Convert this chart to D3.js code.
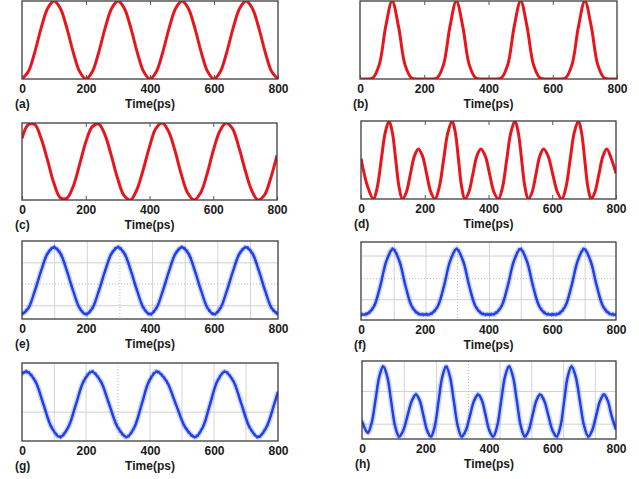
<!DOCTYPE html>
<html>
<head>
<meta charset="utf-8">
<script src="https://cdn.jsdelivr.net/npm/d3@7"></script>
<style>
  body { margin: 0; background: #fff; }
  svg { display: block; font-family: "Liberation Sans", Arial, sans-serif; }
</style>
</head>
<body>
<div id="chart"></div>
<script>
/**
 * DATA (amplitude normalised 0..1)
 * */
const tickValues = [0, 200, 400, 600, 800];

const time20 = [0, 20, 40, 60, 80, 100, 120, 140, 160, 180, 200, 220, 240, 260, 280, 300, 320, 340, 360, 380,
  400, 420, 440, 460, 480, 500, 520, 540, 560, 580, 600, 620, 640, 660, 680, 700, 720, 740, 760, 780, 800];

// (a) sine, peaks at 100/300/500/700
const valA = [0, 0.095, 0.345, 0.655, 0.905, 1, 0.905, 0.655, 0.345, 0.095,
  0, 0.095, 0.345, 0.655, 0.905, 1, 0.905, 0.655, 0.345, 0.095,
  0, 0.095, 0.345, 0.655, 0.905, 1, 0.905, 0.655, 0.345, 0.095,
  0, 0.095, 0.345, 0.655, 0.905, 1, 0.905, 0.655, 0.345, 0.095, 0];

// (b) narrow pulses with flat bottoms
const valB = [0, 0, 0.014, 0.184, 0.671, 1, 0.671, 0.184, 0.014, 0,
  0, 0, 0.014, 0.184, 0.671, 1, 0.671, 0.184, 0.014, 0,
  0, 0, 0.014, 0.184, 0.671, 1, 0.671, 0.184, 0.014, 0,
  0, 0, 0.014, 0.184, 0.671, 1, 0.671, 0.184, 0.014, 0, 0];

// (c) shifted sine
const valC = [0.80, 0.98, 0.98, 0.80, 0.52, 0.22, 0.03, 0.02, 0.17, 0.45,
  0.75, 0.95, 0.99, 0.85, 0.58, 0.28, 0.06, 0.00, 0.13, 0.39,
  0.69, 0.93, 1.00, 0.89, 0.64, 0.33, 0.09, 0.00, 0.09, 0.33,
  0.64, 0.89, 1.00, 0.93, 0.69, 0.39, 0.13, 0.00, 0.06, 0.28, 0.58];

// (d) alternating high / low peaks
const timeD = [0, 20, 39, 51, 63.5, 76, 88, 98.5, 109, 119.5, 130, 142.5, 155, 167.5, 180, 193, 206, 219, 232,
  245.5, 259, 272.5, 286, 296, 306, 316, 326, 338.5, 351, 363.5, 376, 390, 403.5, 417, 431,
  444, 457, 470, 483, 493.5, 504, 514.5, 525, 537, 549, 561, 573, 587, 601.5, 616, 630,
  643, 656, 669, 682, 692, 702, 712, 722, 734, 746.5, 759, 771, 785, 800];
const valD = [0.52, 0.17, 0, 0.15, 0.5, 0.85, 1, 0.85, 0.5, 0.15, 0, 0.09, 0.32, 0.55, 0.64, 0.55, 0.32, 0.09, 0,
  0.15, 0.5, 0.85, 1, 0.85, 0.5, 0.15, 0, 0.09, 0.32, 0.55, 0.64, 0.55, 0.32, 0.09, 0,
  0.15, 0.5, 0.85, 1, 0.85, 0.5, 0.15, 0, 0.09, 0.32, 0.55, 0.64, 0.55, 0.32, 0.09, 0,
  0.15, 0.5, 0.85, 1, 0.85, 0.5, 0.15, 0, 0.09, 0.32, 0.55, 0.64, 0.52, 0.33];

// (e) measured sine
const valE = [0.06, 0.14, 0.36, 0.62, 0.84, 0.92, 0.84, 0.62, 0.36, 0.14,
  0.06, 0.14, 0.36, 0.62, 0.84, 0.92, 0.84, 0.62, 0.36, 0.14,
  0.06, 0.14, 0.36, 0.62, 0.84, 0.92, 0.84, 0.62, 0.36, 0.14,
  0.06, 0.14, 0.36, 0.62, 0.84, 0.92, 0.84, 0.62, 0.36, 0.14, 0.06];

// (f) measured pulses
const valF = [0.07, 0.08, 0.17, 0.43, 0.76, 0.91, 0.76, 0.43, 0.17, 0.08,
  0.07, 0.08, 0.17, 0.43, 0.76, 0.91, 0.76, 0.43, 0.17, 0.08,
  0.07, 0.08, 0.17, 0.43, 0.76, 0.91, 0.76, 0.43, 0.17, 0.08,
  0.07, 0.08, 0.17, 0.43, 0.76, 0.91, 0.76, 0.43, 0.17, 0.08, 0.07];

// (g) measured shifted sine
const timeG = [0, 15, 41, 67, 93, 119, 143.75, 168.5, 193.25, 218, 245.25, 272.5, 299.75, 327,
  350.5, 374, 397.5, 421, 451, 481, 511, 541, 564.25, 587.5, 610.75, 634, 660, 686, 712, 738, 763, 788, 800];
const valG = [0.86, 0.89, 0.77, 0.47, 0.17, 0.05, 0.17, 0.47, 0.77, 0.89, 0.77, 0.47, 0.17, 0.05,
  0.17, 0.47, 0.77, 0.89, 0.77, 0.47, 0.17, 0.05, 0.17, 0.47, 0.77, 0.89, 0.77, 0.47, 0.17, 0.05, 0.17, 0.47, 0.63];

// (h) measured alternating peaks
const timeH = [0, 18, 30, 42.5, 55, 67, 79.5, 92, 104.5, 117, 130, 143.5, 157, 170, 182, 193.5, 205, 217,
  229, 241, 253, 265, 277, 289.5, 302, 314, 327, 340, 353, 366, 378, 389.5, 401, 413,
  425.5, 438, 450.5, 463, 475.5, 488, 500.5, 513, 525, 537, 549, 561, 574, 587, 600, 613,
  625, 636.5, 648, 660, 673, 686.5, 700, 713, 725, 737.5, 750, 762, 774, 786, 800];
const valH = [0.23, 0.08, 0.2, 0.5, 0.81, 0.93, 0.8, 0.48, 0.16, 0.03, 0.11, 0.3, 0.49, 0.57, 0.49, 0.3, 0.11, 0.03,
  0.16, 0.48, 0.8, 0.93, 0.8, 0.48, 0.16, 0.03, 0.11, 0.3, 0.49, 0.57, 0.49, 0.3, 0.11, 0.03,
  0.16, 0.48, 0.8, 0.93, 0.8, 0.48, 0.16, 0.03, 0.11, 0.3, 0.49, 0.57, 0.49, 0.3, 0.11, 0.03,
  0.16, 0.48, 0.8, 0.93, 0.8, 0.48, 0.16, 0.03, 0.11, 0.3, 0.49, 0.57, 0.49, 0.3, 0.12];

// oscilloscope grid of the measured panels (time of vertical lines, level of horizontal lines)
const gridE = { v: [102, 204, 408, 510, 612, 714], vDot: [306], h: [0.72, 0.17], hDot: [0.45] };
const gridF = { v: [104, 204, 403, 503, 603, 703], vDot: [303], h: [0.82, 0.26], hDot: [0.53] };
const gridG = { v: [101, 200, 400, 500, 600, 700], vDot: [300], h: [0.37], hDot: [] };
const gridH = { v: [133, 235, 435, 535, 635, 735], vDot: [335], h: [0.61, 0.19], hDot: [] };

/**
 * LAYOUT
 * */
const width = 639, height = 479;
const panels = [
  { id: "a", t: time20, v: valA, kind: "sim", box: [22, 1, 278, 79] },
  { id: "b", t: time20, v: valB, kind: "sim", box: [360, 1, 617, 79] },
  { id: "c", t: time20, v: valC, kind: "sim", box: [22, 123, 277, 200] },
  { id: "d", t: timeD, v: valD, kind: "sim", box: [361, 121, 616, 199] },
  { id: "e", t: time20, v: valE, kind: "exp", grid: gridE, box: [22, 241, 278, 319] },
  { id: "f", t: time20, v: valF, kind: "exp", grid: gridF, box: [361, 242, 616, 320] },
  { id: "g", t: timeG, v: valG, kind: "exp", grid: gridG, box: [22, 363, 278, 441] },
  { id: "h", t: timeH, v: valH, kind: "exp", grid: gridH, box: [362, 361, 616, 439] }
];

const svg = d3.select("#chart")
  .append("svg")
  .attr("width", width)
  .attr("height", height);

const defs = svg.append("defs");

panels.forEach(drawPanel);

function drawPanel(p) {
  const [x0, y0, x1, y1] = p.box;
  const x = d3.scaleLinear().domain([0, 800]).range([x0, x1]);
  const y = d3.scaleLinear().domain([0, 1]).range([y1, y0]);
  const g = svg.append("g").attr("class", "panel-" + p.id);

  defs.append("clipPath").attr("id", "clip-" + p.id)
    .append("rect")
    .attr("x", x0).attr("y", y0)
    .attr("width", x1 - x0).attr("height", y1 - y0);

  // grid for the scope traces
  if (p.grid) {
    const grid = g.append("g").attr("stroke-width", 1).attr("fill", "none");
    grid.selectAll("line.v")
      .data(p.grid.v)
      .join("line")
      .attr("x1", d => x(d)).attr("x2", d => x(d))
      .attr("y1", y0).attr("y2", y1)
      .attr("stroke", "#d4d4d4");
    grid.selectAll("line.vd")
      .data(p.grid.vDot)
      .join("line")
      .attr("x1", d => x(d)).attr("x2", d => x(d))
      .attr("y1", y0).attr("y2", y1)
      .attr("stroke", "#b8b8b8")
      .attr("stroke-dasharray", "1,2");
    grid.selectAll("line.h")
      .data(p.grid.h)
      .join("line")
      .attr("x1", x0).attr("x2", x1)
      .attr("y1", d => y(d)).attr("y2", d => y(d))
      .attr("stroke", "#d0d0d0");
    grid.selectAll("line.hd")
      .data(p.grid.hDot)
      .join("line")
      .attr("x1", x0).attr("x2", x1)
      .attr("y1", d => y(d)).attr("y2", d => y(d))
      .attr("stroke", "#b8b8b8")
      .attr("stroke-dasharray", "1,2");
  }

  const line = d3.line()
    .x((d, i) => x(p.t[i]))
    .y(d => y(d))
    .curve(d3.curveCatmullRom.alpha(0.5));

  const trace = g.append("g").attr("clip-path", `url(#clip-${p.id})`).attr("fill", "none");
  if (p.kind === "sim") {
    trace.append("path")
      .attr("d", line(p.v))
      .attr("stroke", "#e8161c")
      .attr("stroke-width", 3)
      .attr("stroke-linejoin", "round");
  } else {
    // scope trace: speckled band + solid core
    trace.append("path")
      .attr("d", line(p.v))
      .attr("stroke", "#6f88f2")
      .attr("stroke-opacity", 0.35)
      .attr("stroke-width", 5.5);
    [[-1.6, "1.5,2.5"], [1.6, "1,3.5"], [-0.8, "2,3"], [0.9, "1,2"]].forEach(([dy, dash]) => {
      trace.append("path")
        .attr("d", line(p.v))
        .attr("transform", `translate(0,${dy})`)
        .attr("stroke", "#3352ec")
        .attr("stroke-opacity", 0.8)
        .attr("stroke-width", 1.1)
        .attr("stroke-dasharray", dash);
    });
    trace.append("path")
      .attr("d", line(p.v))
      .attr("stroke", "#1f3fe8")
      .attr("stroke-width", 2.4);
  }

  // frame
  g.append("rect")
    .attr("x", x0).attr("y", y0)
    .attr("width", x1 - x0).attr("height", y1 - y0)
    .attr("fill", "none")
    .attr("stroke", "#3c3c3c")
    .attr("stroke-width", 1.3);

  // bottom axis with labels
  const axis = g.append("g")
    .attr("transform", `translate(0,${y1})`)
    .call(d3.axisBottom(x)
      .tickValues(tickValues)
      .tickSizeInner(p.kind === "sim" ? -4 : 0)
      .tickSizeOuter(0)
      .tickPadding(5.5));
  axis.select(".domain").remove();
  axis.selectAll("line").attr("stroke", "#555");
  axis.selectAll("text")
    .attr("fill", "#1a1a1a")
    .style("font-size", "12px")
    .style("font-weight", "bold");

  if (p.kind === "sim") {
    const top = g.append("g")
      .attr("transform", `translate(0,${y0})`)
      .call(d3.axisTop(x)
        .tickValues(tickValues.slice(1, -1))
        .tickSizeInner(-4)
        .tickSizeOuter(0)
        .tickFormat(""));
    top.select(".domain").remove();
    top.selectAll("line").attr("stroke", "#555");
  }

  g.append("text")
    .attr("x", x0 - 7)
    .attr("y", y1 + 29)
    .attr("fill", "#1a1a1a")
    .style("font-size", "12px")
    .style("font-weight", "bold")
    .text(`(${p.id})`);

  g.append("text")
    .attr("x", (x0 + x1) / 2)
    .attr("y", y1 + 29)
    .attr("text-anchor", "middle")
    .attr("fill", "#1a1a1a")
    .style("font-size", "12px")
    .style("font-weight", "bold")
    .text("Time(ps)");
}
</script>
</body>
</html>
